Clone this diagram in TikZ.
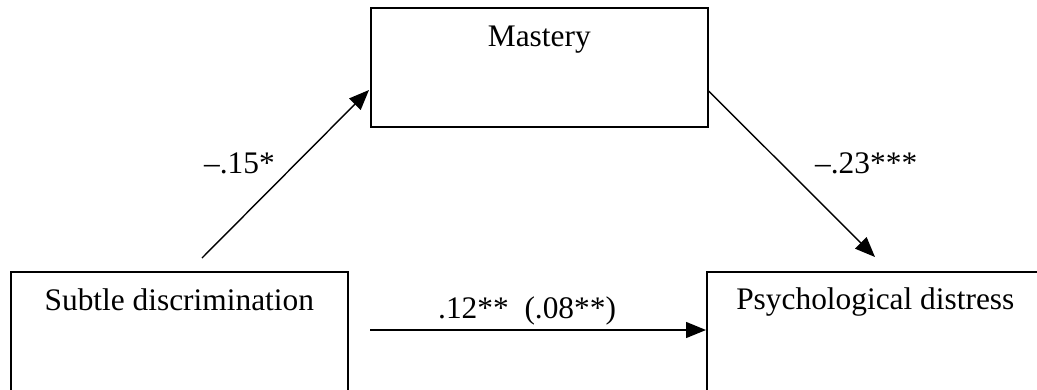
\documentclass[tikz,border=0pt]{standalone}
\usepackage{fontspec}
\setmainfont{Liberation Serif}
\usetikzlibrary{arrows.meta,calc}
\begin{document}
\begin{tikzpicture}[x=1bp,y=-1bp,
  varbox/.style={draw, line width=1.6bp, rectangle, inner sep=0pt,
    minimum width=337bp, anchor=north west},
  boxtext/.style={anchor=base, inner sep=0pt, font=\fontsize{31.5}{36}\selectfont},
  coef/.style={anchor=base west, inner sep=0pt, font=\fontsize{31.5}{36}\selectfont},
  path/.style={line width=1.4bp, -{Triangle[length=20bp,width=16bp]}}]
  \useasboundingbox (0,0) rectangle (1037,389);
  \clip (0,0) rectangle (1037,389);

  % variables
  \node[varbox, minimum height=119bp] (mastery) at (370,7) {};
  \node[varbox, minimum height=135bp] (subtle) at (10,271) {};
  \node[varbox, minimum height=135bp] (distress) at (706,271) {};
  \node[boxtext] (mastlab) at ($(mastery.north)+(0,39)$) {Mastery};
  \node[boxtext] (sublab) at ($(subtle.north)+(0,39)$) {Subtle discrimination};
  \node[boxtext] (dislab) at ($(distress.north)+(0,38)$) {Psychological distress};

  % paths
  \coordinate (aStart) at (202,258);
  \draw[path] (aStart) -- ($(mastery.north west)+(-1,83)$);
  \draw[path] ($(mastery.north east)+(0,84)$) -- ($(distress.north west)+(169,-14)$);
  \coordinate (cStart) at (370,330);
  \draw[path] (cStart) -- (cStart -| distress.west);

  % coefficients
  \node[coef] (ca) at (204,173) {–.15*};
  \node[coef] (cb) at (815,173) {–.23***};
  \node[coef] (cc) at (438,318) {.12**\ \ (.08**)};
\end{tikzpicture}
\end{document}
